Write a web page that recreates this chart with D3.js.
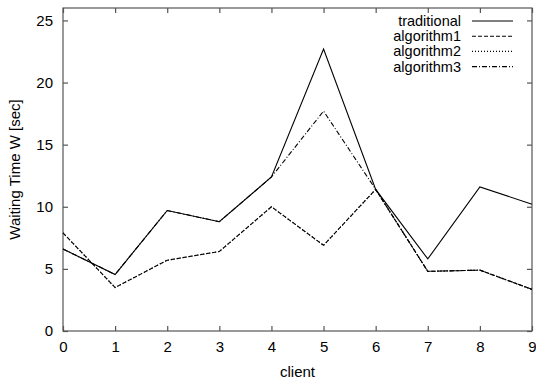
<!DOCTYPE html>
<html><head><meta charset="utf-8">
<script src="https://cdn.jsdelivr.net/npm/d3@7"></script>
<style>body{margin:0;background:#fff;}svg{display:block;}</style>
</head><body>
<script>
const clients = [0,1,2,3,4,5,6,7,8,9];
const traditional = [6.6,4.55,9.7,8.8,12.4,22.7,11.4,5.8,11.6,10.2];
const algorithm1 = [7.9,3.5,5.7,6.4,10.0,6.9,11.4,4.8,4.9,3.35];
const algorithm2 = [7.9,3.5,5.7,6.4,10.0,6.9,11.4,4.8,4.9,3.35];
const algorithm3 = [6.6,4.55,9.7,8.8,12.4,17.7,11.4,4.8,4.9,3.35];
const seriesNames = ["traditional","algorithm1","algorithm2","algorithm3"];
const yTicks = [0,5,10,15,20,25];

const W = 536, H = 383;
const m = {left:63, right:4, top:8, bottom:52};
const svg = d3.select("body").append("svg").attr("width",W).attr("height",H);
const x = d3.scaleLinear().domain([0,9]).range([m.left, W-m.right]);
const y = d3.scaleLinear().domain([0,26]).range([H-m.bottom, m.top]);
const font = "'Liberation Sans', Arial, Helvetica, sans-serif";
const axisColor = "#555";

const series = [
  {name:seriesNames[0], vals:traditional, dash:null},
  {name:seriesNames[1], vals:algorithm1, dash:"4,2"},
  {name:seriesNames[2], vals:algorithm2, dash:"1,2"},
  {name:seriesNames[3], vals:algorithm3, dash:"5,2,1,2"}
];

svg.append("rect").attr("x",x(0)).attr("y",y(26)).attr("width",x(9)-x(0)).attr("height",y(0)-y(26))
  .attr("fill","none").attr("stroke",axisColor).attr("stroke-width",1.2);

const gB = svg.append("g").attr("transform",`translate(0,${y(0)})`)
  .call(d3.axisBottom(x).tickValues(clients).tickFormat(d3.format("d")).tickSizeInner(-5).tickSizeOuter(0).tickPadding(10));
const gT = svg.append("g").attr("transform",`translate(0,${y(26)})`)
  .call(d3.axisTop(x).tickValues(clients).tickFormat("").tickSizeInner(-5).tickSizeOuter(0));
const gL = svg.append("g").attr("transform",`translate(${x(0)},0)`)
  .call(d3.axisLeft(y).tickValues(yTicks).tickFormat(d3.format("d")).tickSizeInner(-5).tickSizeOuter(0).tickPadding(10));
const gR = svg.append("g").attr("transform",`translate(${x(9)},0)`)
  .call(d3.axisRight(y).tickValues(yTicks).tickFormat("").tickSizeInner(-5).tickSizeOuter(0));
[gB,gT,gL,gR].forEach(g=>{
  g.select(".domain").remove();
  g.selectAll(".tick line").attr("stroke",axisColor).attr("stroke-width",1.2);
  g.selectAll("text").attr("font-family",font).attr("font-size",15).attr("fill","#000");
});

const line = d3.line().x((d,i)=>x(clients[i])).y(d=>y(d));
series.forEach(s=>{
  svg.append("path").datum(s.vals).attr("d",line).attr("fill","none")
    .attr("stroke","#000").attr("stroke-width",1.1)
    .attr("stroke-dasharray",s.dash);
});

series.forEach((s,i)=>{
  const ly = 21 + i*15.2;
  svg.append("text").attr("x",461).attr("y",ly).attr("dy","0.35em").attr("text-anchor","end")
    .attr("font-family",font).attr("font-size",14.5).text(s.name);
  svg.append("line").attr("x1",472).attr("x2",513).attr("y1",ly).attr("y2",ly)
    .attr("stroke","#000").attr("stroke-width",1.1).attr("stroke-dasharray",s.dash);
});

svg.append("text").attr("x",(x(0)+x(9))/2).attr("y",377).attr("text-anchor","middle")
  .attr("font-family",font).attr("font-size",15).text("client");
svg.append("text").attr("transform",`translate(20,${(y(0)+y(26))/2}) rotate(-90)`)
  .attr("text-anchor","middle").attr("font-family",font).attr("font-size",15).text("Waiting Time W [sec]");
</script>
</body></html>
